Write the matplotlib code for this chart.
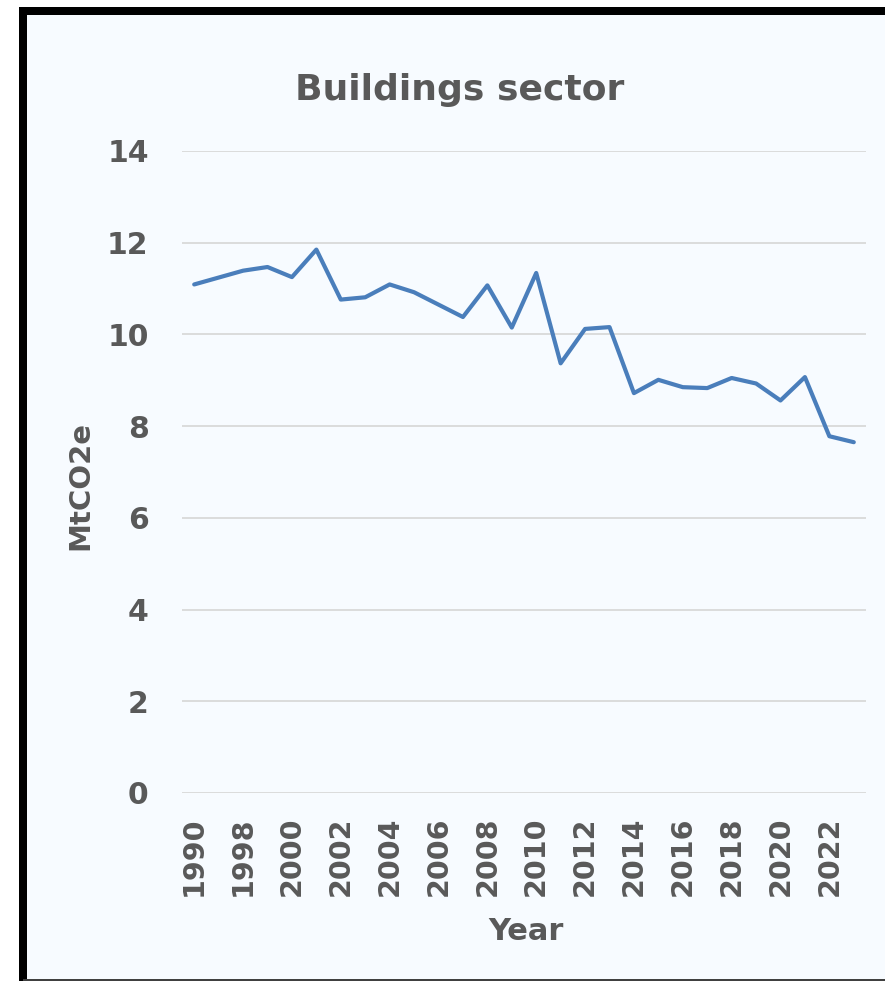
#!/usr/bin/env python3

import matplotlib
matplotlib.use("Agg")
import matplotlib.pyplot as plt
from matplotlib.patches import Rectangle

years = ["1990", "1995", "1998", "1999", "2000", "2001", "2002", "2003", "2004",
         "2005", "2006", "2007", "2008", "2009", "2010", "2011", "2012", "2013",
         "2014", "2015", "2016", "2017", "2018", "2019", "2020", "2021", "2022",
         "2023"]
emissions = [11.09, 11.24, 11.39, 11.47, 11.25, 11.85, 10.76, 10.81, 11.09,
             10.92, 10.65, 10.38, 11.07, 10.15, 11.34, 9.37, 10.12, 10.16,
             8.72, 9.01, 8.85, 8.83, 9.05, 8.93, 8.56, 9.07, 7.78, 7.65]
yticks = [0, 2, 4, 6, 8, 10, 12, 14]

TXT = "#595959"
BG = "#F7FBFF"
W, H = 885, 981


def main():
    plt.rcParams["font.family"] = ["DejaVu Sans"]
    fig = plt.figure(figsize=(W / 100, H / 100), dpi=100)
    fig.patch.set_facecolor("white")

    # chart frame: thick black edge on left/top, cut off on the right
    lw = 8 * 72 / 100
    frame = Rectangle((23 / W, -4 / H), 1.2, (H - 11 + 4) / H,
                      transform=fig.transFigure, facecolor=BG,
                      edgecolor="black", linewidth=lw, zorder=-2)
    fig.patches.append(frame)
    bottom = Rectangle((23 / W, 0), 1.2, 2 / H, transform=fig.transFigure,
                       facecolor="#404040", edgecolor="none", zorder=-1)
    fig.patches.append(bottom)

    ax = fig.add_axes([182 / W, 1 - 793 / H, (866 - 182) / W, (793 - 151) / H])
    ax.set_zorder(2)
    ax.set_facecolor("none")
    x = list(range(len(years)))
    ax.plot(x, emissions, color="#4A7EBB", lw=3.0, solid_joinstyle="round",
            solid_capstyle="round", zorder=3)

    ax.set_xlim(-0.5, len(years) - 0.5)
    ax.set_ylim(0, 14)
    ax.set_yticks(yticks)
    ax.set_yticklabels([str(v) for v in yticks], fontsize=21.5, fontweight="bold",
                       color=TXT)
    ax.set_xticks(x[::2])
    ax.set_xticklabels(years[::2], rotation=90, fontsize=20.5, fontweight="bold",
                       color=TXT)
    ax.tick_params(axis="y", length=0, pad=24)
    ax.tick_params(axis="x", length=0, pad=17)
    ax.grid(axis="y", color="#D9D9D9", lw=1.3)
    ax.set_axisbelow(True)
    for s in ax.spines.values():
        s.set_visible(False)

    fig.text(460 / W, 1 - 90 / H, "Buildings sector", ha="center", va="center",
             fontsize=26, fontweight="bold", color=TXT)
    fig.text(80 / W, 1 - 485 / H, "MtCO2e", rotation=90, ha="center",
             va="center", fontsize=21, fontweight="bold", color=TXT)
    fig.text(526 / W, 1 - 932 / H, "Year", ha="center", va="center",
             fontsize=22, fontweight="bold", color=TXT)

    fig.savefig("out.png", dpi=100, facecolor=fig.get_facecolor())


if __name__ == "__main__":
    main()
